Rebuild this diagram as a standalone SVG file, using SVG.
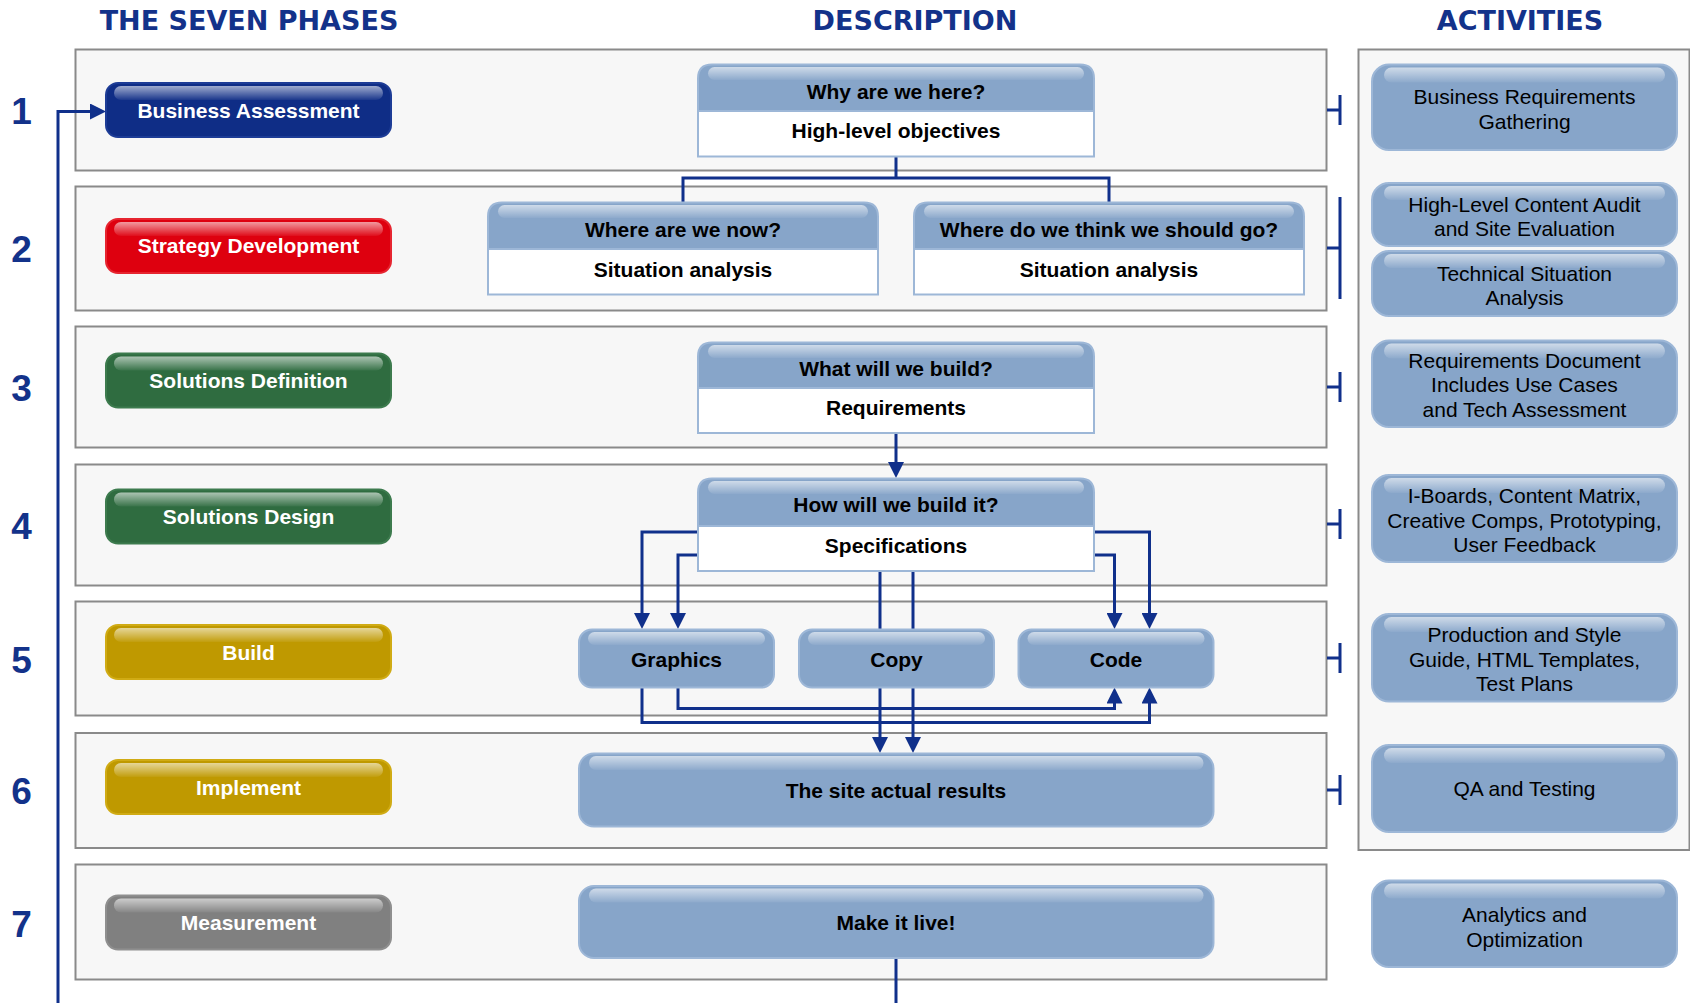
<svg xmlns="http://www.w3.org/2000/svg" width="1690" height="1003" viewBox="0 0 1690 1003">
<defs>
<style>
.hdr{font-family:"DejaVu Sans",Verdana,sans-serif;font-weight:bold;font-size:27px;fill:#13328a;text-anchor:middle}
.num{font-family:"Liberation Sans",Arial,sans-serif;font-weight:bold;font-size:37px;fill:#13328a;text-anchor:middle}
.row{fill:#f7f7f7;stroke:#8a8a8a;stroke-width:2}
.ph{font-family:"Liberation Sans",Arial,sans-serif;font-weight:bold;font-size:21px;fill:#fff;text-anchor:middle}
.bt{font-family:"Liberation Sans",Arial,sans-serif;font-weight:bold;font-size:21px;fill:#000;text-anchor:middle}
.at{font-family:"Liberation Sans",Arial,sans-serif;font-size:21px;fill:#000;text-anchor:middle}
.sb{fill:#87a5c9;stroke:#9db7d7;stroke-width:2}
.wb{fill:#fff;stroke:#9db7d7;stroke-width:2}
.gl{fill:url(#gloss)}
.con{fill:none;stroke:#10308b;stroke-width:3}
.arr{marker-end:url(#ah)}
.ba{fill:#0f2d86;stroke:#1d3c96;stroke-width:2}
.sd{fill:#de000f;stroke:#e62530;stroke-width:2}
.gr{fill:#2f6c40;stroke:#3d7b4e;stroke-width:2}
.go{fill:#bf9900;stroke:#d0ab14;stroke-width:2}
.gy{fill:#808080;stroke:#8f8f8f;stroke-width:2}
</style>
<linearGradient id="gloss" x1="0" y1="0" x2="0" y2="1">
<stop offset="0" stop-color="#fff" stop-opacity="0.6"/>
<stop offset="1" stop-color="#fff" stop-opacity="0.05"/>
</linearGradient>
<marker id="ah" viewBox="0 0 16 16" refX="12" refY="8" markerWidth="16" markerHeight="16" markerUnits="userSpaceOnUse" orient="auto">
<path d="M0,0 L16,8 L0,16 z" fill="#10308b"/>
</marker>
</defs>
<rect width="1690" height="1003" fill="#fff"/>

<g id="headers">
<text class="hdr" x="249" y="30">THE SEVEN PHASES</text>
<text class="hdr" x="915" y="30">DESCRIPTION</text>
<text class="hdr" x="1520" y="30">ACTIVITIES</text>
</g>

<g id="numbers">
<text class="num" x="21.5" y="124">1</text>
<text class="num" x="21.5" y="262">2</text>
<text class="num" x="21.5" y="401">3</text>
<text class="num" x="21.5" y="539">4</text>
<text class="num" x="21.5" y="673">5</text>
<text class="num" x="21.5" y="804">6</text>
<text class="num" x="21.5" y="937">7</text>
</g>

<g id="rows">
<rect class="row" x="75.5" y="49.5" width="1251" height="121"/>
<rect class="row" x="75.5" y="186.5" width="1251" height="124"/>
<rect class="row" x="75.5" y="326.5" width="1251" height="121"/>
<rect class="row" x="75.5" y="464.5" width="1251" height="121"/>
<rect class="row" x="75.5" y="601.5" width="1251" height="114"/>
<rect class="row" x="75.5" y="733" width="1251" height="115"/>
<rect class="row" x="75.5" y="864.5" width="1251" height="115"/>
<rect class="row" x="1358.5" y="49.5" width="331" height="800.5"/>
</g>

<g id="connectors">
<path class="con arr" d="M58,1003 V111.5 H102"/>
<path class="con" d="M896,958 V1003"/>
<path class="con" d="M683,202.5 V178 H1109 V202.5 M896,156.5 V178"/>
<path class="con arr" d="M896,433 V474"/>
<path class="con arr" d="M698,532 H642 V625"/>
<path class="con arr" d="M698,555 H678 V625"/>
<path class="con arr" d="M1095,555 H1114.5 V625"/>
<path class="con arr" d="M1095,532 H1149.5 V625"/>
<path class="con arr" d="M880,571 V749"/>
<path class="con arr" d="M913,571 V749"/>
<path class="con arr" d="M678,687.5 V708.5 H1114.5 V691.5"/>
<path class="con arr" d="M642,687.5 V722.5 H1149.5 V691.5"/>
<path class="con" d="M1327,110 H1340 M1340,95 V125 M1327,248 H1340 M1340,197 V299 M1327,387 H1340 M1340,372 V402 M1327,524 H1340 M1340,509 V539 M1327,658 H1340 M1340,643 V673 M1327,790 H1340 M1340,775 V805"/>
</g>

<g id="phase-1">
<rect class="ba" x="106" y="83" width="285" height="54" rx="12"/>
<rect class="gl" x="114" y="86" width="269" height="14" rx="7"/>
<text class="ph" x="248.5" y="117.5">Business Assessment</text>
</g>
<g id="phase-2">
<rect class="sd" x="106" y="219" width="285" height="54" rx="12"/>
<rect class="gl" x="114" y="222" width="269" height="14" rx="7"/>
<text class="ph" x="248.5" y="253">Strategy Development</text>
</g>
<g id="phase-3">
<rect class="gr" x="106" y="353.5" width="285" height="54" rx="12"/>
<rect class="gl" x="114" y="356.5" width="269" height="14" rx="7"/>
<text class="ph" x="248.5" y="388">Solutions Definition</text>
</g>
<g id="phase-4">
<rect class="gr" x="106" y="489.5" width="285" height="54" rx="12"/>
<rect class="gl" x="114" y="492.5" width="269" height="14" rx="7"/>
<text class="ph" x="248.5" y="524">Solutions Design</text>
</g>
<g id="phase-5">
<rect class="go" x="106" y="625" width="285" height="54" rx="12"/>
<rect class="gl" x="114" y="628" width="269" height="14" rx="7"/>
<text class="ph" x="248.5" y="659.5">Build</text>
</g>
<g id="phase-6">
<rect class="go" x="106" y="760" width="285" height="54" rx="12"/>
<rect class="gl" x="114" y="763" width="269" height="14" rx="7"/>
<text class="ph" x="248.5" y="794.5">Implement</text>
</g>
<g id="phase-7">
<rect class="gy" x="106" y="895.5" width="285" height="54" rx="12"/>
<rect class="gl" x="114" y="898.5" width="269" height="14" rx="7"/>
<text class="ph" x="248.5" y="930">Measurement</text>
</g>

<g id="desc-why">
<rect class="wb" x="698" y="111" width="396" height="45.5"/>
<path class="sb" d="M698,111 V78.5 Q698,64.5 712,64.5 H1080 Q1094,64.5 1094,78.5 V111 Z"/>
<rect class="gl" x="708" y="67" width="376" height="13" rx="6.5"/>
<text class="bt" x="896" y="98.5">Why are we here?</text>
<text class="bt" x="896" y="138">High-level objectives</text>
</g>
<g id="desc-now">
<rect class="wb" x="488" y="249" width="390" height="45.5"/>
<path class="sb" d="M488,249 V216.5 Q488,202.5 502,202.5 H864 Q878,202.5 878,216.5 V249 Z"/>
<rect class="gl" x="498" y="205" width="370" height="13" rx="6.5"/>
<text class="bt" x="683" y="236.5">Where are we now?</text>
<text class="bt" x="683" y="277">Situation analysis</text>
</g>
<g id="desc-go">
<rect class="wb" x="914" y="249" width="390" height="45.5"/>
<path class="sb" d="M914,249 V216.5 Q914,202.5 928,202.5 H1290 Q1304,202.5 1304,216.5 V249 Z"/>
<rect class="gl" x="924" y="205" width="370" height="13" rx="6.5"/>
<text class="bt" x="1109" y="236.5">Where do we think we should go?</text>
<text class="bt" x="1109" y="277">Situation analysis</text>
</g>
<g id="desc-what">
<rect class="wb" x="698" y="388" width="396" height="45"/>
<path class="sb" d="M698,388 V356.5 Q698,342.5 712,342.5 H1080 Q1094,342.5 1094,356.5 V388 Z"/>
<rect class="gl" x="708" y="345" width="376" height="13" rx="6.5"/>
<text class="bt" x="896" y="375.5">What will we build?</text>
<text class="bt" x="896" y="415">Requirements</text>
</g>
<g id="desc-how">
<rect class="wb" x="698" y="526" width="396" height="45"/>
<path class="sb" d="M698,526 V492.5 Q698,478.5 712,478.5 H1080 Q1094,478.5 1094,492.5 V526 Z"/>
<rect class="gl" x="708" y="481" width="376" height="13" rx="6.5"/>
<text class="bt" x="896" y="512">How will we build it?</text>
<text class="bt" x="896" y="553">Specifications</text>
</g>

<g id="graphics">
<rect class="sb" x="579" y="629.5" width="195" height="58" rx="13"/>
<rect class="gl" x="588" y="632" width="177" height="13" rx="6.5"/>
<text class="bt" x="676.5" y="667">Graphics</text>
</g>
<g id="copy">
<rect class="sb" x="799" y="629.5" width="195" height="58" rx="13"/>
<rect class="gl" x="808" y="632" width="177" height="13" rx="6.5"/>
<text class="bt" x="896.5" y="667">Copy</text>
</g>
<g id="code">
<rect class="sb" x="1018.5" y="629.5" width="195" height="58" rx="13"/>
<rect class="gl" x="1027.5" y="632" width="177" height="13" rx="6.5"/>
<text class="bt" x="1116" y="667">Code</text>
</g>
<g id="site-results">
<rect class="sb" x="579" y="753.5" width="634.5" height="73" rx="15"/>
<rect class="gl" x="589" y="756" width="614.5" height="14" rx="7"/>
<text class="bt" x="896" y="798">The site actual results</text>
</g>
<g id="make-live">
<rect class="sb" x="579" y="886" width="634.5" height="72" rx="15"/>
<rect class="gl" x="589" y="888.5" width="614.5" height="14" rx="7"/>
<text class="bt" x="896" y="930">Make it live!</text>
</g>

<g id="act-1">
<rect class="sb" x="1372" y="64.5" width="305" height="85.5" rx="17"/>
<rect class="gl" x="1384" y="67.5" width="281" height="15" rx="7.5"/>
<text class="at" x="1524.5" y="104">Business Requirements</text>
<text class="at" x="1524.5" y="129">Gathering</text>
</g>
<g id="act-2a">
<rect class="sb" x="1372" y="183" width="305" height="63" rx="17"/>
<rect class="gl" x="1384" y="186" width="281" height="14" rx="7"/>
<text class="at" x="1524.5" y="211.5">High-Level Content Audit</text>
<text class="at" x="1524.5" y="236">and Site Evaluation</text>
</g>
<g id="act-2b">
<rect class="sb" x="1372" y="251" width="305" height="65" rx="17"/>
<rect class="gl" x="1384" y="254" width="281" height="14" rx="7"/>
<text class="at" x="1524.5" y="280.5">Technical Situation</text>
<text class="at" x="1524.5" y="305">Analysis</text>
</g>
<g id="act-3">
<rect class="sb" x="1372" y="340.5" width="305" height="86.5" rx="17"/>
<rect class="gl" x="1384" y="343.5" width="281" height="15" rx="7.5"/>
<text class="at" x="1524.5" y="367.5">Requirements Document</text>
<text class="at" x="1524.5" y="392">Includes Use Cases</text>
<text class="at" x="1524.5" y="416.5">and Tech Assessment</text>
</g>
<g id="act-4">
<rect class="sb" x="1372" y="475" width="305" height="87" rx="17"/>
<rect class="gl" x="1384" y="478" width="281" height="15" rx="7.5"/>
<text class="at" x="1524.5" y="503">I-Boards, Content Matrix,</text>
<text class="at" x="1524.5" y="527.5">Creative Comps, Prototyping,</text>
<text class="at" x="1524.5" y="552">User Feedback</text>
</g>
<g id="act-5">
<rect class="sb" x="1372" y="614" width="305" height="87.5" rx="17"/>
<rect class="gl" x="1384" y="617" width="281" height="15" rx="7.5"/>
<text class="at" x="1524.5" y="642">Production and Style</text>
<text class="at" x="1524.5" y="666.5">Guide, HTML Templates,</text>
<text class="at" x="1524.5" y="691">Test Plans</text>
</g>
<g id="act-6">
<rect class="sb" x="1372" y="745" width="305" height="87" rx="17"/>
<rect class="gl" x="1384" y="748" width="281" height="15" rx="7.5"/>
<text class="at" x="1524.5" y="795.5">QA and Testing</text>
</g>
<g id="act-7">
<rect class="sb" x="1372" y="880.5" width="305" height="86.5" rx="17"/>
<rect class="gl" x="1384" y="883.5" width="281" height="15" rx="7.5"/>
<text class="at" x="1524.5" y="922">Analytics and</text>
<text class="at" x="1524.5" y="947">Optimization</text>
</g>
</svg>
